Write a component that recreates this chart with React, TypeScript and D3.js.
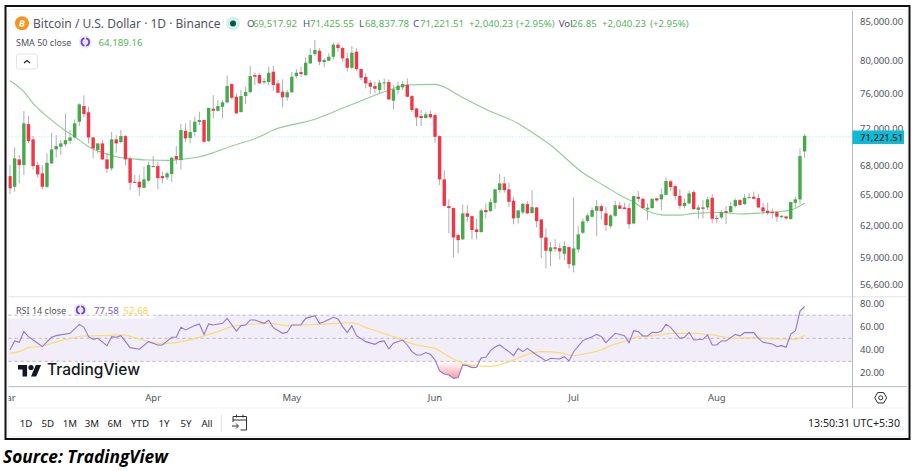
import React, { useEffect, useRef } from "react";
import * as d3 from "d3";

// daily candles
const opens = [
  66920, 65820, 68670, 68070, 72530, 70830, 68070, 67200, 65820, 68250,
  69740, 70030, 70290, 70680, 71040, 72790, 74580, 73860, 71040, 69670,
  70390, 68670, 67720, 70830, 70530, 71190, 68740, 66330, 66330, 65720,
  66440, 67960, 67960, 66920, 66780, 67130, 69020, 68600, 71780, 70970,
  71640, 72760, 72980, 70640, 74270, 74040, 74490, 75000, 77160, 75660,
  73900, 75740, 76210, 78240, 78240, 77360, 77400, 78650, 77240, 76250,
  75590, 76180, 78120, 78600, 78240, 79670, 80830, 81240, 79830, 79990,
  80490, 82000, 81580, 80290, 79130, 81120, 78970, 78000, 77320, 76920,
  76450, 77320, 77400, 75190, 76450, 76770, 77080, 75740, 74310, 73440,
  73210, 73660, 73550, 71190, 66580, 63880, 63690, 61080, 60680, 63170,
  62900, 61620, 61370, 63490, 63390, 64210, 65490, 66170, 65560, 64410,
  62730, 63260, 64080, 63190, 63750, 62580, 60860, 59560, 59930, 59860,
  59340, 59960, 58280, 59740, 61300, 62440, 62840, 63420, 63880, 63170,
  61940, 62930, 63950, 63750, 63690, 62190, 64810, 64610, 63560, 63690,
  64650, 64550, 65010, 66380, 65890, 64910, 63880, 64150, 65280, 63520,
  63750, 63750, 64710, 62730, 62770, 63390, 63290, 63880, 64480, 64080,
  64710, 64810, 64680, 63750, 63420, 63320, 63290, 62800, 62870, 62610,
  64210, 64550, 69517.92,
];
const highs = [
  68070, 69960, 69130, 74000, 73440, 71190, 68420, 68070, 69310, 71560,
  71300, 70750, 73740, 71860, 73060, 74890, 75830, 74490, 71100, 70390,
  70750, 69380, 71670, 71300, 71860, 71300, 68950, 67020, 67020, 67890,
  68420, 69020, 68420, 67360, 67360, 68950, 70100, 72530, 72610, 72980,
  73360, 73930, 72980, 74380, 75860, 75270, 75270, 78200, 77240, 76060,
  76450, 76840, 79340, 78520, 78440, 77840, 79260, 79340, 77640, 77720,
  76450, 78650, 78930, 79260, 80410, 81540, 82600, 81540, 80290, 80910,
  82260, 82260, 81750, 80990, 81830, 81540, 79060, 78440, 77640, 77440,
  77640, 77840, 77720, 77040, 77440, 77560, 77840, 75860, 74310, 74120,
  73930, 74040, 73740, 71270, 67540, 64550, 63750, 61240, 64050, 63980,
  62900, 62680, 63650, 64150, 64650, 65620, 67130, 66850, 66230, 64810,
  63490, 64210, 64380, 65460, 63810, 62580, 61720, 60450, 60700, 60300,
  60510, 59990, 64750, 61960, 62680, 63170, 63750, 64480, 64080, 63810,
  63100, 64410, 64310, 64210, 64150, 64880, 65380, 64750, 64150, 64650,
  64710, 65660, 66780, 66510, 65990, 65590, 64650, 65420, 65490, 63980,
  64480, 64810, 65080, 63000, 63490, 63880, 64310, 64650, 64550, 65080,
  65150, 65320, 65080, 64210, 64210, 63650, 63420, 63000, 62930, 64310,
  64810, 69850, 71425.55,
];
const lows = [
  65080, 65320, 66170, 67020, 70390, 67610, 66780, 65560, 65700, 68180,
  68880, 69130, 70030, 70320, 70930, 72310, 73290, 70390, 68780, 69310,
  68600, 67260, 67470, 69380, 70390, 68070, 65490, 66170, 64910, 65720,
  66330, 67900, 65560, 66170, 66510, 66330, 68180, 67610, 70570, 70390,
  71190, 72420, 70460, 70570, 73170, 73930, 73170, 74890, 75350, 73660,
  73820, 74810, 76060, 77040, 77240, 77160, 77040, 76370, 76060, 74430,
  75190, 76130, 77840, 78040, 78120, 79590, 80580, 79460, 79180, 79990,
  80170, 81120, 79870, 78650, 78930, 78760, 77640, 76650, 75980, 76060,
  76060, 76450, 75270, 74200, 75980, 76450, 75590, 73930, 72310, 72310,
  73170, 73170, 70460, 65990, 63810, 61240, 59000, 59380, 60610, 62350,
  60680, 60680, 61300, 62640, 63320, 63620, 65220, 65220, 63810, 62120,
  62200, 63100, 63100, 63170, 61810, 58940, 58010, 58220, 59530, 58820,
  58760, 58010, 57650, 59460, 61180, 62250, 62770, 60990, 62580, 61460,
  61720, 62840, 63560, 63560, 61680, 62120, 64310, 63620, 62510, 63620,
  64310, 63490, 64950, 65420, 64480, 63620, 63650, 64050, 63490, 62640,
  62680, 63490, 62200, 62200, 62640, 62120, 63230, 63750, 63880, 63980,
  64650, 64550, 63650, 63070, 63000, 62680, 62350, 62730, 62580, 62580,
  63750, 64080, 68837.78,
];
const closes = [
  65660, 68780, 68070, 72610, 70640, 67960, 67090, 65820, 68310, 69740,
  70100, 70390, 70750, 71040, 72610, 74770, 73660, 71040, 69850, 70390,
  68670, 67680, 70830, 70390, 71190, 68670, 66230, 66230, 65760, 66580,
  68070, 67900, 66710, 66710, 67200, 68850, 68670, 71860, 70930, 71640,
  72790, 72980, 70570, 74370, 74040, 74580, 75010, 76920, 75540, 73740,
  75740, 76210, 78120, 78040, 77240, 77520, 78520, 77040, 76130, 75590,
  76180, 78040, 78520, 78360, 79750, 80700, 81330, 79870, 80080, 80490,
  82000, 81580, 80290, 79130, 80990, 78970, 77920, 77240, 76840, 76600,
  77320, 77360, 75350, 76530, 76960, 77160, 75660, 74120, 73290, 73210,
  73630, 73290, 71110, 66580, 63910, 63690, 60860, 60610, 63170, 62840,
  61560, 61370, 63460, 63290, 64280, 65560, 66170, 65490, 64310, 62680,
  63460, 64110, 63170, 63780, 62410, 60830, 59620, 59930, 59800, 59560,
  60050, 58400, 59840, 61150, 62390, 62970, 63490, 63880, 63390, 62030,
  62970, 63980, 63620, 63590, 62120, 64880, 64610, 63690, 63720, 64610,
  64450, 65050, 66410, 65790, 64880, 63910, 64210, 65150, 63590, 63750,
  63620, 64550, 62640, 62640, 63290, 63230, 63880, 64480, 64010, 64710,
  64780, 64610, 63750, 63360, 63190, 63190, 62840, 62930, 62680, 64280,
  64550, 69020, 71221.51,
];

// SMA 50, [candle index, value]
const sma50: [number, number][] = [
  [0, 77560], [3, 76250], [5, 74890], [9, 72980], [12, 71780], [14, 71110], [17, 70030],
  [21, 69240], [23, 68950], [27, 68710], [30, 68600], [34, 68570], [37, 68670], [41, 68950],
  [44, 69380], [48, 70100], [54, 71110], [57, 71860], [66, 73060], [71, 74120], [75, 74960],
  [81, 76250], [86, 77040], [92, 77120], [94, 76800], [97, 75860], [103, 74200], [110, 72600],
  [113, 71620], [117, 70220], [124, 67260], [129, 65830], [132, 64980],
  [135, 64280], [138, 63400], [142, 63000], [145, 63000], [148, 63170], [154, 63260],
  [158, 63100], [161, 63170], [166, 63320], [169, 63490], [172, 64189.16],
];

// RSI 14, [candle index, value]
const rsi14: [number, number][] = [
  [0, 39.9], [1, 47.7], [2, 46.5], [3, 55.8], [4, 51.4], [6, 45.7], [7, 42.8], [9, 50.9], [10, 52.3],
  [13, 54.3], [15, 62.1], [16, 59.5], [17, 51.4], [18, 49.1], [19, 50], [21, 43.6], [22, 51.4],
  [23, 50.9], [24, 52.3], [26, 41.9], [28, 40.5], [30, 47.1], [32, 44.2], [33, 44.2], [35, 50.9],
  [36, 50.9], [37, 59.5], [38, 57.2], [40, 61], [41, 62.4], [42, 53.4], [43, 62.4], [44, 61.5],
  [46, 63], [47, 67.3], [49, 56.3], [50, 61], [51, 61.5], [52, 65.9], [53, 65.9], [55, 63],
  [56, 65.6], [57, 59.2], [59, 54.3], [60, 55.2], [61, 61.5], [63, 61.8], [64, 67.3], [66, 69.6],
  [67, 63], [68, 64.4], [70, 68.2], [71, 66.7], [72, 60.1], [73, 54.9], [74, 60.7], [75, 52.3],
  [77, 47.1], [79, 44.8], [80, 47.1], [81, 47.7], [82, 40.8], [83, 45.7], [85, 48.5], [86, 44.2],
  [87, 38.4], [88, 35.5], [89, 35.5], [90, 37.6], [91, 36.1], [92, 31.2], [93, 21.7], [94, 19.1],
  [95, 18.2], [96, 15.3], [97, 15.9], [98, 26.9], [99, 26.3], [100, 24.6], [101, 24.9], [102, 33.2],
  [103, 33.5], [104, 39.3], [105, 42.5], [106, 44.2], [107, 41.3], [108, 38.4], [109, 35],
  [110, 41.3], [111, 38.4], [112, 41.3], [114, 35.5], [115, 33.2], [116, 30.4], [117, 32.7],
  [119, 32.1], [120, 34.1], [121, 30.4], [122, 38.4], [124, 48], [126, 51.4], [127, 53.4],
  [128, 51.5], [129, 46.2], [131, 54.3], [133, 52.3], [134, 46.2], [135, 56.6], [136, 55.8],
  [137, 52], [138, 52], [139, 55.2], [140, 54.9], [141, 56.3], [142, 62.1], [143, 59.5], [145, 50],
  [146, 50.9], [147, 55.2], [148, 48.5], [150, 49.1], [151, 52.9], [152, 44.2], [153, 44.2],
  [154, 47.7], [155, 47.7], [157, 53.4], [158, 52], [159, 54.9], [161, 54.9], [162, 50], [163, 46.5],
  [165, 45.1], [166, 42.8], [167, 43.6], [168, 42.2], [169, 53.7], [170, 56.3], [171, 73.6], [172, 77.58],
];

// RSI moving average
const rsiMa: [number, number][] = [
  [0, 37], [2, 38.4], [4, 41.9], [7, 43.3], [9, 45.7], [11, 47.7], [16, 52], [20, 52.3], [24, 52.9],
  [27, 50.6], [30, 47.1], [33, 45.4], [38, 47.7], [43, 53.4], [45, 55.8], [48, 60.1], [53, 62.4],
  [56, 63], [60, 61], [63, 61.5], [67, 62.1], [71, 63], [74, 63.5], [77, 59.5], [83, 51.4], [88, 44.2],
  [92, 41.3], [95, 34.1], [100, 26.3], [104, 25.7], [109, 31.2], [112, 36.1], [115, 38.4], [119, 37.6],
  [122, 35], [125, 37], [128, 39.9], [130, 43.6], [134, 48.5], [136, 51.4], [141, 52.9], [143, 54.3],
  [148, 54.3], [152, 52.9], [157, 50], [162, 50.6], [165, 49.4], [170, 49.1], [172, 52.68],
];

const priceTicks = [85000, 80000, 76000, 72000, 68000, 65000, 62000, 59000, 56600];
const rsiTicks = [80, 60, 40, 20];
const rsiLevels = [70, 50, 30];
const monthLabels = ["Mar", "Apr", "May", "Jun", "Jul", "Aug"];
const monthIndex = [-0.7, 31, 61, 92, 122, 153];
const ranges = ["1D", "5D", "1M", "3M", "6M", "YTD", "1Y", "5Y", "All"];
const rangeX = [26, 47.7, 70, 92, 114.7, 140, 164, 186, 207];

const lastPrice = 71221.51;
const GREEN = "#46a94b";
const RED = "#f23645";
const TEXT_GREEN = "#55b55a";
const UI_FONT = "'Noto Sans', sans-serif";

const App = () => {
  const svgRef = useRef<SVGSVGElement | null>(null);

  useEffect(() => {
    if (!svgRef.current) return;
    const svg = d3.select(svgRef.current);
    svg.selectAll("*").remove();

    const x = d3.scaleLinear().domain([0, 172]).range([10, 804.6]);
    const y = d3.scaleLog().domain([59000, 85000]).range([257.5, 21.5]);
    const yRsi = d3.scaleLinear().domain([20, 80]).range([372.9, 303.7]);

    const left = 8.5;
    const axisX = 852.5;
    const right = 907;

    const defs = svg.append("defs");
    defs.append("clipPath").attr("id", "plot-clip")
      .append("rect").attr("x", left).attr("y", 10).attr("width", axisX - left).attr("height", 286);
    defs.append("clipPath").attr("id", "time-clip")
      .append("rect").attr("x", left).attr("y", 387).attr("width", axisX - left).attr("height", 21);
    defs.append("clipPath").attr("id", "below-30")
      .append("rect").attr("x", left).attr("y", yRsi(30)).attr("width", axisX - left).attr("height", 30);
    defs.append("clipPath").attr("id", "above-70")
      .append("rect").attr("x", left).attr("y", 297).attr("width", axisX - left).attr("height", yRsi(70) - 297);
    const grad = defs.append("linearGradient").attr("id", "oversold")
      .attr("gradientUnits", "userSpaceOnUse")
      .attr("x1", 0).attr("x2", 0).attr("y1", yRsi(30)).attr("y2", yRsi(15));
    grad.append("stop").attr("offset", "0%").attr("stop-color", "#f23645").attr("stop-opacity", 0);
    grad.append("stop").attr("offset", "100%").attr("stop-color", "#f23645").attr("stop-opacity", 0.5);

    // frame
    svg.append("rect").attr("x", 8).attr("y", 9.5).attr("width", 899).attr("height", 427)
      .attr("rx", 3).attr("fill", "#fff").attr("stroke", "#eceef2");
    svg.append("rect").attr("x", 5.5).attr("y", 6).attr("width", 904).attr("height", 433)
      .attr("fill", "none").attr("stroke", "#111").attr("stroke-width", 2);

    // pane separators
    [[296.8, "#e0e3eb"], [386.6, "#b8bbc4"], [408, "#f0f3fa"]].forEach(([py, c]) => {
      svg.append("line").attr("x1", left).attr("x2", right).attr("y1", py as number).attr("y2", py as number)
        .attr("stroke", c as string);
    });
    svg.append("line").attr("x1", axisX).attr("x2", axisX).attr("y1", 11).attr("y2", 408).attr("stroke", "#b8bbc4");

    const plot = svg.append("g").attr("clip-path", "url(#plot-clip)");

    // last price line
    plot.append("line").attr("x1", left).attr("x2", axisX).attr("y1", y(lastPrice) + 1).attr("y2", y(lastPrice) + 1)
      .attr("stroke", "#a5e3ec").attr("stroke-dasharray", "1,2");

    // SMA 50
    const smaLine = d3.line<[number, number]>().x(d => x(d[0])).y(d => y(d[1])).curve(d3.curveMonotoneX);
    plot.append("path").attr("d", smaLine(sma50)).attr("fill", "none").attr("stroke", "#8bd08e").attr("stroke-width", 1.1);

    // candles
    const candles = opens.map((o, i) => ({ i, o, h: highs[i], l: lows[i], c: closes[i] }));
    const bodyW = 3.4;
    plot.selectAll("line.wick").data(candles).enter().append("line")
      .attr("class", "wick")
      .attr("x1", d => x(d.i)).attr("x2", d => x(d.i))
      .attr("y1", d => y(d.h)).attr("y2", d => y(d.l))
      .attr("stroke", "#a3a5a9").attr("stroke-width", 0.9);
    plot.selectAll("rect.body").data(candles).enter().append("rect")
      .attr("class", "body")
      .attr("x", d => x(d.i) - bodyW / 2)
      .attr("width", bodyW)
      .attr("y", d => y(Math.max(d.o, d.c)))
      .attr("height", d => Math.max(1, Math.abs(y(d.o) - y(d.c))))
      .attr("fill", d => (d.c >= d.o ? GREEN : RED));

    // price axis
    const priceAxis = d3.axisRight(y).tickValues(priceTicks).tickFormat(d3.format(",.2f") as any)
      .tickSize(0).tickPadding(7.5);
    const pa = svg.append("g").attr("transform", `translate(${axisX},0)`).call(priceAxis);
    pa.select(".domain").remove();
    pa.selectAll("text").attr("fill", "#50535e").style("font-family", UI_FONT).style("font-size", "9.5px");

    // current price tag
    svg.append("rect").attr("x", axisX).attr("y", 130.5).attr("width", 51.5).attr("height", 13.5).attr("fill", "#0cbbd6");
    svg.append("text").attr("x", axisX + 7.5).attr("y", 140.8).text(d3.format(",.2f")(lastPrice))
      .attr("fill", "#222").style("font-family", UI_FONT).style("font-size", "9.5px").style("font-weight", 500);

    // RSI pane
    const rsiG = svg.append("g");
    rsiG.append("rect").attr("x", left).attr("width", axisX - left)
      .attr("y", yRsi(70)).attr("height", yRsi(30) - yRsi(70)).attr("fill", "#7e57c2").attr("fill-opacity", 0.1);
    rsiLevels.forEach(v => {
      rsiG.append("line").attr("x1", left).attr("x2", axisX).attr("y1", yRsi(v)).attr("y2", yRsi(v))
        .attr("stroke", "#a9a7b2").attr("stroke-dasharray", "3,3").attr("stroke-width", 0.8);
    });
    const rsiLine = d3.line<[number, number]>().x(d => x(d[0])).y(d => yRsi(d[1]));
    const oversoldArea = d3.area<[number, number]>().x(d => x(d[0])).y0(yRsi(30)).y1(d => yRsi(d[1]));
    rsiG.append("path").attr("d", oversoldArea(rsi14)).attr("fill", "url(#oversold)").attr("clip-path", "url(#below-30)");
    rsiG.append("path").attr("d", d3.area<[number, number]>().x(d => x(d[0])).y0(yRsi(70)).y1(d => yRsi(d[1]))(rsi14))
      .attr("fill", "#4caf50").attr("fill-opacity", 0.12).attr("clip-path", "url(#above-70)");
    rsiG.append("path").attr("d", d3.line<[number, number]>().x(d => x(d[0])).y(d => yRsi(d[1])).curve(d3.curveMonotoneX)(rsiMa))
      .attr("fill", "none").attr("stroke", "#fbdc6d").attr("stroke-width", 1.2);
    rsiG.append("path").attr("d", rsiLine(rsi14)).attr("fill", "none").attr("stroke", "#9575d2").attr("stroke-width", 1.1);

    const rsiAxis = d3.axisRight(yRsi).tickValues(rsiTicks).tickFormat(d3.format(".2f") as any).tickSize(0).tickPadding(7.5);
    const ra = svg.append("g").attr("transform", `translate(${axisX},0)`).call(rsiAxis);
    ra.select(".domain").remove();
    ra.selectAll("text").attr("fill", "#50535e").style("font-family", UI_FONT).style("font-size", "9.5px");

    // text helper
    const label = (tx: number, ty: number, s: string, fill: string, size = 9.5, anchor = "start", weight: any = 400) =>
      svg.append("text").attr("x", tx).attr("y", ty).text(s).attr("fill", fill).attr("text-anchor", anchor)
        .style("font-family", UI_FONT).style("font-size", `${size}px`).style("font-weight", weight);

    // refresh style icon
    const syncIcon = (cx: number, cy: number) => {
      svg.append("circle").attr("cx", cx).attr("cy", cy).attr("r", 6.5).attr("fill", "#ece8f7");
      const arc = d3.arc()({ innerRadius: 3, outerRadius: 4.7, startAngle: 0.2, endAngle: 2.9 } as any);
      const arc2 = d3.arc()({ innerRadius: 3, outerRadius: 4.7, startAngle: 3.35, endAngle: 6.05 } as any);
      [arc, arc2].forEach(a => {
        svg.append("path").attr("d", a as string).attr("transform", `translate(${cx},${cy})`).attr("fill", "#6a3fe0");
      });
    };

    // top legend
    svg.append("circle").attr("cx", 22).attr("cy", 23.3).attr("r", 7).attr("fill", "#f7931a");
    svg.append("text").attr("x", 22).attr("y", 26.6).attr("text-anchor", "middle").text("B")
      .attr("fill", "#fff").attr("transform", "rotate(12 22 23.3)")
      .style("font-family", UI_FONT).style("font-size", "9px").style("font-weight", 700);
    label(33, 27.5, "Bitcoin / U.S. Dollar · 1D · Binance", "#50535e", 12);
    svg.append("circle").attr("cx", 233).attr("cy", 23.5).attr("r", 7).attr("fill", "#d9efec");
    svg.append("circle").attr("cx", 233).attr("cy", 23.5).attr("r", 3).attr("fill", "#00594e");

    const ohlcSize = 9.7;
    [[247, "O", "69,517.92", 253], [303, "H", "71,425.55", 310], [359, "L", "68,837.78", 365], [413, "C", "71,221.51", 420]].forEach(
      ([a, k, v, b]) => {
        label(a as number, 27, k as string, "#50535e", ohlcSize);
        label(b as number, 27, v as string, TEXT_GREEN, ohlcSize);
      }
    );
    label(469, 27, "+2,040.23", TEXT_GREEN, ohlcSize);
    label(516, 27, "(+2.95%)", TEXT_GREEN, ohlcSize);
    label(558.7, 27, "Vol", "#50535e", ohlcSize);
    label(572, 27, "26.85", TEXT_GREEN, ohlcSize);
    label(602, 27, "+2,040.23", TEXT_GREEN, ohlcSize);
    label(650, 27, "(+2.95%)", TEXT_GREEN, ohlcSize);

    label(16, 45.5, "SMA 50 close", "#50535e", 9);
    syncIcon(85.3, 42);
    label(98.5, 45.5, "64,189.16", TEXT_GREEN, 9.7);

    svg.append("rect").attr("x", 16.5).attr("y", 54).attr("width", 21).attr("height", 15).attr("rx", 2)
      .attr("fill", "#fff").attr("stroke", "#e0e3eb");
    svg.append("path").attr("d", d3.line()([[24, 63], [27, 60.5], [30, 63]]) as string)
      .attr("fill", "none").attr("stroke", "#222").attr("stroke-width", 1.1);

    // RSI legend, white plate over the band
    svg.append("rect").attr("x", left).attr("y", 303).attr("width", 145).attr("height", 15.5).attr("fill", "#fff");
    svg.append("line").attr("x1", left).attr("x2", 153).attr("y1", yRsi(70)).attr("y2", yRsi(70))
      .attr("stroke", "#a9a7b2").attr("stroke-dasharray", "3,3").attr("stroke-width", 0.8);
    label(16, 313.5, "RSI 14 close", "#50535e", 9);
    syncIcon(80.5, 310);
    label(94, 313.5, "77.58", "#7e57c2", 9.7);
    label(123.5, 313.5, "52.68", "#fbd24d", 9.7);

    // TradingView watermark
    const tv = svg.append("g").attr("transform", "translate(18,362.3) scale(0.65)").attr("fill", "#131722");
    tv.append("path").attr("d", "M14 22H7V11H0V4h14v18zM28 22h-8l7.5-18h8L28 22z");
    tv.append("circle").attr("cx", 20).attr("cy", 8).attr("r", 4);
    svg.append("text").attr("x", 47).attr("y", 375).text("TradingView").attr("fill", "#131722")
      .style("font-family", "Inter, sans-serif").style("font-size", "15.5px").style("font-weight", 500);

    // months
    const months = svg.append("g").attr("clip-path", "url(#time-clip)");
    monthLabels.forEach((m, i) => {
      months.append("text").attr("x", x(monthIndex[i])).attr("y", 401).attr("text-anchor", "middle").text(m)
        .attr("fill", "#50535e").style("font-family", UI_FONT).style("font-size", "9.5px");
    });

    // settings hexagon
    const hex = d3.range(6).map(k => {
      const a = (Math.PI / 3) * k;
      return [880.7 + 6 * Math.cos(a), 397.8 + 6 * Math.sin(a)] as [number, number];
    });
    svg.append("path").attr("d", d3.line().curve(d3.curveLinearClosed)(hex) as string)
      .attr("fill", "none").attr("stroke", "#2a2e39").attr("stroke-width", 1);
    svg.append("circle").attr("cx", 880.7).attr("cy", 397.8).attr("r", 2).attr("fill", "none").attr("stroke", "#2a2e39");

    // range buttons
    ranges.forEach((r, i) => label(rangeX[i], 427, r, "#222", 9.7, "middle"));
    svg.append("line").attr("x1", 221.5).attr("x2", 221.5).attr("y1", 415).attr("y2", 432).attr("stroke", "#e0e3eb");
    const cal = svg.append("g").attr("fill", "none").attr("stroke", "#333").attr("stroke-width", 1);
    cal.append("path").attr("d", "M233 422v-5.5h13.5v13.5h-6M233 420h13.5M236.5 414.5v3M243 414.5v3M232 426h6M236 423.5l2.5 2.5l-2.5 2.5");
    label(900, 427, "13:50:31 UTC+5:30", "#222", 10.6, "end");

    // source line
    svg.append("text").attr("x", 3).attr("y", 463).text("Source: TradingView").attr("fill", "#000")
      .style("font-family", "'Open Sans', sans-serif").style("font-size", "17.3px")
      .style("font-weight", 700).style("font-style", "italic");
  }, []);

  return (
    <div style={{ position: "absolute", left: 0, top: 0, width: 915, height: 471, background: "#fff" }}>
      <svg ref={svgRef} width={915} height={471} style={{ display: "block" }} />
    </div>
  );
};

export default App;
